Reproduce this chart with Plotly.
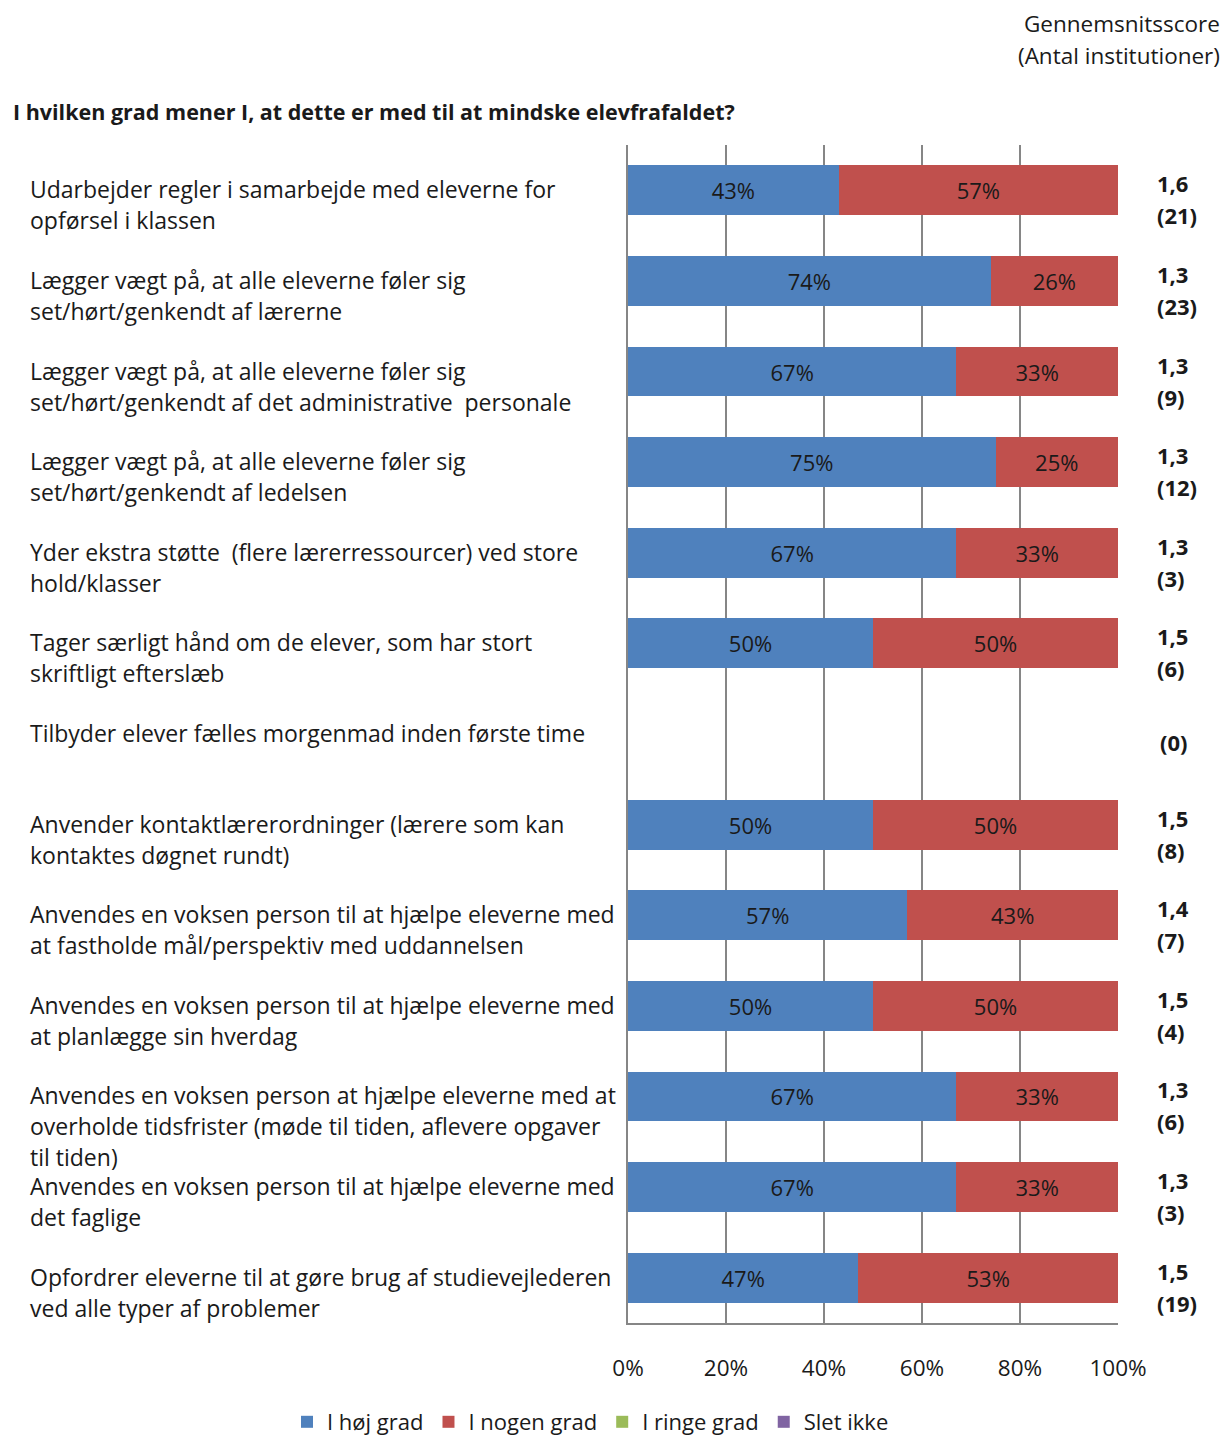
import plotly.graph_objects as go

categories = [
    "Udarbejder regler i samarbejde med eleverne for<br>opførsel i klassen",
    "Lægger vægt på, at alle eleverne føler sig<br>set/hørt/genkendt af lærerne",
    "Lægger vægt på, at alle eleverne føler sig<br>set/hørt/genkendt af det administrative  personale",
    "Lægger vægt på, at alle eleverne føler sig<br>set/hørt/genkendt af ledelsen",
    "Yder ekstra støtte  (flere lærerressourcer) ved store<br>hold/klasser",
    "Tager særligt hånd om de elever, som har stort<br>skriftligt efterslæb",
    "Tilbyder elever fælles morgenmad inden første time",
    "Anvender kontaktlærerordninger (lærere som kan<br>kontaktes døgnet rundt)",
    "Anvendes en voksen person til at hjælpe eleverne med<br>at fastholde mål/perspektiv med uddannelsen",
    "Anvendes en voksen person til at hjælpe eleverne med<br>at planlægge sin hverdag",
    "Anvendes en voksen person at hjælpe eleverne med at<br>overholde tidsfrister (møde til tiden, aflevere opgaver<br>til tiden)",
    "Anvendes en voksen person til at hjælpe eleverne med<br>det faglige",
    "Opfordrer eleverne til at gøre brug af studievejlederen<br>ved alle typer af problemer",
]
hoej_grad = [43, 74, 67, 75, 67, 50, None, 50, 57, 50, 67, 67, 47]
nogen_grad = [57, 26, 33, 25, 33, 50, None, 50, 43, 50, 33, 33, 53]
ringe_grad = [0, 0, 0, 0, 0, 0, None, 0, 0, 0, 0, 0, 0]
slet_ikke = [0, 0, 0, 0, 0, 0, None, 0, 0, 0, 0, 0, 0]
scores = ["1,6", "1,3", "1,3", "1,3", "1,3", "1,5", None, "1,5", "1,4", "1,5", "1,3", "1,3", "1,5"]
counts = [21, 23, 9, 12, 3, 6, 0, 8, 7, 4, 6, 3, 19]
series_names = ["I høj grad", "I nogen grad", "I ringe grad", "Slet ikke"]
tick_vals = [0, 20, 40, 60, 80, 100]
tick_text = ["0%", "20%", "40%", "60%", "80%", "100%"]

FONT = "Open Sans"
TXT = "#1a1a1a"
ypos = list(range(len(categories)))

fig = go.Figure()
colors = ["#4F81BD", "#C0504D", "#9BBB59", "#8064A2"]
for name, vals, col in zip(series_names, [hoej_grad, nogen_grad, ringe_grad, slet_ikke], colors):
    show_text = name in ("I høj grad", "I nogen grad")
    fig.add_trace(go.Bar(
        y=ypos, x=vals, name=name, orientation="h",
        marker=dict(color=col, line=dict(width=0)),
        text=[f"{v}%" if (v is not None and show_text) else "" for v in vals],
        textposition="inside", insidetextanchor="middle",
        textfont=dict(family=FONT, size=22, color=TXT),
        hoverinfo="skip",
    ))

# plot area geometry (pixels)
W, H = 1226, 1435
PL, PR = 628, 1118
PW = PR - PL
PT, PB = 145, 1323
PH = PB - PT
def px_y(y):
    return (PB - y) / PH
def px_x(x):
    return (x - PL) / PW

annotations = []
for i, cat in enumerate(categories):
    for k, line in enumerate(cat.split("<br>")):
        annotations.append(dict(
            text=line, xref="paper", yref="y", x=px_x(28), y=i,
            xanchor="left", yanchor="middle", yshift=1 - 31 * k, showarrow=False,
            font=dict(family=FONT, size=23, color=TXT),
        ))
    if scores[i] is not None:
        annotations.append(dict(
            text=f"<b>{scores[i]}</b>", xref="paper", yref="y", x=px_x(1155), y=i,
            xanchor="left", yanchor="middle", yshift=7, showarrow=False,
            font=dict(family=FONT, size=22, color=TXT)))
        annotations.append(dict(
            text=f"<b>({counts[i]})</b>", xref="paper", yref="y", x=px_x(1155), y=i,
            xanchor="left", yanchor="middle", yshift=-25, showarrow=False,
            font=dict(family=FONT, size=22, color=TXT)))
    else:
        annotations.append(dict(
            text=f"<b>({counts[i]})</b>", xref="paper", yref="y", x=px_x(1158), y=i,
            xanchor="left", yanchor="middle", yshift=-8, showarrow=False,
            font=dict(family=FONT, size=22, color=TXT)))

annotations += [
    dict(text="Gennemsnitsscore", xref="paper", yref="paper", x=px_x(1222), y=px_y(23),
         xanchor="right", yanchor="middle", showarrow=False, font=dict(family=FONT, size=22.5, color=TXT)),
    dict(text="(Antal institutioner)", xref="paper", yref="paper", x=px_x(1222), y=px_y(55),
         xanchor="right", yanchor="middle", showarrow=False, font=dict(family=FONT, size=22.5, color=TXT)),
    dict(text="<b>I hvilken grad mener I, at dette er med til at mindske elevfrafaldet?</b>", xref="paper", yref="paper",
         x=px_x(11), y=px_y(111), xanchor="left", yanchor="middle", showarrow=False,
         font=dict(family=FONT, size=21.5, color=TXT)),
]

fig.update_layout(
    barmode="stack", bargap=0.45,
    width=W, height=H,
    margin=dict(l=PL, r=W - PR, t=PT, b=H - PB, pad=0, autoexpand=False),
    paper_bgcolor="white", plot_bgcolor="white",
    showlegend=True,
    legend=dict(orientation="h", x=px_x(287), y=px_y(1422),
                xanchor="left", yanchor="middle",
                font=dict(family=FONT, size=22, color=TXT), itemwidth=30, traceorder="normal"),
    annotations=annotations,
    uniformtext=dict(mode="show", minsize=10),
)
fig.update_xaxes(range=[0, 100], tickvals=tick_vals, ticktext=tick_text, showgrid=True,
                 gridcolor="#868686", gridwidth=2, showline=True, linecolor="#868686", linewidth=2,
                 zeroline=False, ticks="", ticklabelstandoff=24, automargin=False,
                 tickfont=dict(family=FONT, size=22.5, color=TXT), fixedrange=True)
fig.update_yaxes(range=[len(categories) - 0.5, -0.5], showticklabels=False, showgrid=False,
                 showline=True, linecolor="#868686", linewidth=2, zeroline=False, ticks="",
                 automargin=False, fixedrange=True)

fig.write_html("out.html", config={"displayModeBar": False},
               post_script="document.body.style.margin='0';document.body.style.overflow='hidden';")
